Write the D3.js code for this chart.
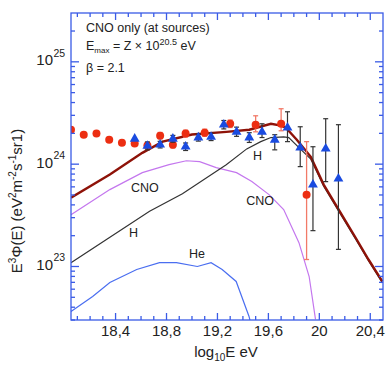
<!DOCTYPE html>
<html><head><meta charset="utf-8">
<script src="https://cdn.jsdelivr.net/npm/d3@7"></script>
<style>
html,body{margin:0;padding:0;background:#fff;}
text{font-family:"Liberation Sans",Arial,Helvetica,sans-serif;fill:#222;}
</style></head>
<body><svg id="c" width="390" height="371"></svg>
<script>
// ---- data ----
const totalLogE = [18.05,18.355,18.61,18.77,19.0,19.27,19.45,19.62,19.70,19.737,19.823,19.933,20.034,20.152,20.284,20.386,20.495];
const totalFlux = [4.71e23,7.91e23,1.29e24,1.66e24,1.95e24,2.07e24,2.17e24,2.48e24,2.38e24,2.27e24,1.73e24,1.18e24,6.31e23,3.60e23,1.92e23,1.17e23,7.14e22];
const hLogE = [18.05,18.667,18.925,19.269,19.43,19.54,19.62,19.72,19.76,19.84,19.933,20.034,20.152,20.284,20.386,20.495];
const hFlux = [1.09e23,3.47e23,5.13e23,9.89e23,1.41e24,1.66e24,1.82e24,1.85e24,1.82e24,1.45e24,1.12e24,6.10e23,3.48e23,1.86e23,1.14e23,6.92e22];
const cnoLogE = [18.05,18.355,18.61,18.82,18.956,19.06,19.19,19.35,19.47,19.605,19.72,19.84,19.92,19.97];
const cnoFlux = [3.21e23,5.64e23,8.26e23,9.89e23,1.08e24,1.06e24,9.25e23,8.26e23,6.76e23,5.04e23,3.60e23,1.71e23,7.98e22,3.04e22];
const heLogE = [18.05,18.22,18.355,18.566,18.745,18.878,19.042,19.15,19.237,19.347,19.448,19.47];
const heFlux = [3.64e22,5.09e22,6.98e22,9.35e22,1.09e23,1.09e23,1.00e23,1.09e23,9.35e22,7.14e22,3.25e22,2.51e22];

const redLogE = [18.05,18.15,18.25,18.35,18.45,18.55,18.65,18.75,18.85,18.95,19.10,19.30,19.50,19.70,19.90];
const redFlux = [2.17e24,1.94e24,1.99e24,1.73e24,1.62e24,1.59e24,1.52e24,1.90e24,1.55e24,1.99e24,2.03e24,2.48e24,2.43e24,2.48e24,5.03e23];
const redLo   = [2.08e24,1.86e24,1.91e24,1.66e24,1.55e24,1.52e24,1.45e24,1.77e24,1.44e24,1.84e24,1.87e24,2.28e24,2.07e24,2.12e24,1.17e23];
const redHi   = [2.26e24,2.02e24,2.07e24,1.80e24,1.69e24,1.66e24,1.59e24,2.04e24,1.67e24,2.15e24,2.20e24,2.70e24,2.97e24,3.48e24,1.66e24];

const blueLogE = [18.55,18.65,18.75,18.85,18.95,19.05,19.15,19.25,19.35,19.45,19.55,19.65,19.75,19.85,19.95,20.05,20.15];
const blueFlux = [1.77e24,1.51e24,1.55e24,1.77e24,1.48e24,1.82e24,1.85e24,2.43e24,2.07e24,1.82e24,2.07e24,1.73e24,2.27e24,1.45e24,6.31e23,1.42e24,7.22e23];
const blueLo   = [1.68e24,1.38e24,1.44e24,1.64e24,1.36e24,1.68e24,1.70e24,2.21e24,1.87e24,1.63e24,1.82e24,1.38e24,1.66e24,9.46e23,2.24e23,6.75e23,1.47e23];
const blueHi   = [1.86e24,1.65e24,1.67e24,1.91e24,1.61e24,1.97e24,2.01e24,2.67e24,2.30e24,2.03e24,2.48e24,1.94e24,3.25e24,2.32e24,1.48e24,2.78e24,2.43e24];

const xTickVals = [18.4,18.8,19.2,19.6,20.0,20.4];
const xTickLabels = ["18,4","18,8","19,2","19,6","20","20,4"];
const yTickVals = [1e23,1e24,1e25];
const yTickExp = ["23","24","25"];

const curveLabels = [
  {t:"CNO", e:18.63, f:5.35e23},
  {t:"CNO", e:19.535, f:3.98e23},
  {t:"H", e:18.54, f:1.94e23},
  {t:"H", e:19.515, f:1.10e24},
  {t:"He", e:19.04, f:1.21e23}
];

// ---- layout ----
const L=71, R=383, T=13, B=320;
const axisCol = "#3a5be6";
const svg = d3.select("#c");
const x = d3.scaleLinear().domain([18.05,20.5]).range([L,R]);
const y = d3.scaleLog().domain([3e22,3e25]).range([B,T]);

svg.append("defs").append("clipPath").attr("id","clip")
  .append("rect").attr("x",L).attr("y",T).attr("width",R-L).attr("height",B-T);

const plot = svg.append("g").attr("clip-path","url(#clip)");
const line = d3.line().x(d=>x(d[0])).y(d=>y(d[1]));
const zip = (a,b)=>a.map((v,i)=>[v,b[i]]);

plot.append("path").datum(zip(cnoLogE,cnoFlux)).attr("d",line)
  .attr("fill","none").attr("stroke","#c477ee").attr("stroke-width",1.2);
plot.append("path").datum(zip(heLogE,heFlux)).attr("d",line)
  .attr("fill","none").attr("stroke","#4a6ef0").attr("stroke-width",1.2);
plot.append("path").datum(zip(hLogE,hFlux)).attr("d",line)
  .attr("fill","none").attr("stroke","#333").attr("stroke-width",1.2);
plot.append("path").datum(zip(totalLogE,totalFlux)).attr("d",line)
  .attr("fill","none").attr("stroke","#8e1208").attr("stroke-width",2.4);

// curve labels
curveLabels.forEach(c=>{
  svg.append("text").attr("x",x(c.e)).attr("y",y(c.f)).attr("text-anchor","middle")
    .attr("font-size",12.5).text(c.t);
});

// ---- data points ----
function errBars(le, lo, hi, col, w){
  const g = plot.append("g").attr("stroke",col).attr("stroke-width",w);
  le.forEach((e,i)=>{
    const cx=x(e), y1=y(lo[i]), y2=y(hi[i]);
    if (Math.abs(y1-y2) < 5) return;
    g.append("line").attr("x1",cx).attr("x2",cx).attr("y1",y1).attr("y2",y2);
    g.append("line").attr("x1",cx-2.5).attr("x2",cx+2.5).attr("y1",y1).attr("y2",y1);
    g.append("line").attr("x1",cx-2.5).attr("x2",cx+2.5).attr("y1",y2).attr("y2",y2);
  });
}
errBars(redLogE, redLo, redHi, "#f27a68", 1.3);
plot.append("g").selectAll("circle").data(redLogE).join("circle")
  .attr("cx",d=>x(d)).attr("cy",(d,i)=>y(redFlux[i])).attr("r",4).attr("fill","#ec2e12");

errBars(blueLogE, blueLo, blueHi, "#333", 1.2);
const tri = d3.symbol().type(d3.symbolTriangle).size(42);
plot.append("g").selectAll("path").data(blueLogE).join("path")
  .attr("d",tri).attr("transform",(d,i)=>`translate(${x(d)},${y(blueFlux[i])})`)
  .attr("fill","#1a4be0");

// ---- frame & ticks ----
const ax = svg.append("g").attr("stroke",axisCol).attr("stroke-width",1.3);
ax.append("rect").attr("x",L).attr("y",T).attr("width",R-L).attr("height",B-T).attr("fill","none");
const xMinor = d3.range(18.1,20.5,0.1);
xMinor.forEach(v=>{
  const px=x(v);
  const major = xTickVals.some(t=>Math.abs(t-v)<1e-6);
  const len = major?7:4;
  ax.append("line").attr("x1",px).attr("x2",px).attr("y1",B).attr("y2",B-len);
  ax.append("line").attr("x1",px).attr("x2",px).attr("y1",T).attr("y2",T+len);
});
const yAll = [];
[22,23,24,25].forEach(p=>{ for(let m=1;m<10;m++){ const v=m*Math.pow(10,p); if(v>=3e22 && v<=3e25) yAll.push([v,m===1]); }});
yAll.forEach(([v,major])=>{
  const py=y(v); const len=major?8:4;
  ax.append("line").attr("x1",L).attr("x2",L+len).attr("y1",py).attr("y2",py);
  ax.append("line").attr("x1",R).attr("x2",R-len).attr("y1",py).attr("y2",py);
});

// tick labels
xTickVals.forEach((v,i)=>{
  svg.append("text").attr("x",x(v)).attr("y",336).attr("text-anchor","middle")
    .attr("font-size",15).text(xTickLabels[i]);
});
yTickVals.forEach((v,i)=>{
  const py=y(v);
  svg.append("text").attr("x",53).attr("y",py+3.5).attr("text-anchor","end").attr("font-size",15).text("10");
  svg.append("text").attr("x",53.5).attr("y",py-5).attr("text-anchor","start").attr("font-size",10.5).text(yTickExp[i]);
});

// axis titles
const xt = svg.append("text").attr("x",226).attr("y",357).attr("text-anchor","middle").attr("font-size",15);
xt.append("tspan").text("log");
xt.append("tspan").attr("font-size",10).attr("dy",4).text("10");
xt.append("tspan").attr("dy",-4).text("E eV");

const yt = svg.append("text").attr("transform","translate(22,201) rotate(-90)").attr("text-anchor","middle").attr("font-size",15);
yt.append("tspan").text("E");
yt.append("tspan").attr("font-size",10).attr("dy",-6).text("3");
yt.append("tspan").attr("dy",6).text("Φ(E) (eV");
yt.append("tspan").attr("font-size",10).attr("dy",-6).text("2");
yt.append("tspan").attr("dy",6).text("m");
yt.append("tspan").attr("font-size",10).attr("dy",-6).text("-2");
yt.append("tspan").attr("dy",6).text("s");
yt.append("tspan").attr("font-size",10).attr("dy",-6).text("-1");
yt.append("tspan").attr("dy",6).text("sr1)");

// annotation
svg.append("text").attr("x",86).attr("y",32).attr("font-size",12.5).text("CNO only (at sources)");
const t2 = svg.append("text").attr("x",86).attr("y",50).attr("font-size",12.5);
t2.append("tspan").text("E");
t2.append("tspan").attr("font-size",8).attr("dy",3).text("max");
t2.append("tspan").attr("dy",-3).text(" = Z × 10");
t2.append("tspan").attr("font-size",9).attr("dy",-5).text("20.5");
t2.append("tspan").attr("dy",5).text(" eV");
svg.append("text").attr("x",86).attr("y",72).attr("font-size",12.5).text("β = 2.1");
</script></body></html>
